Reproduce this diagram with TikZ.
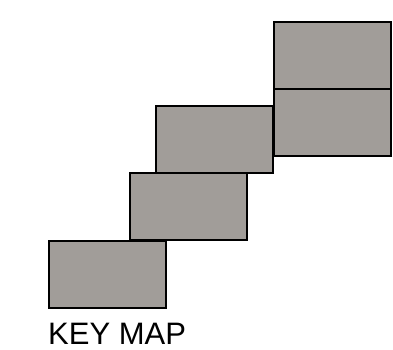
\documentclass[tikz,border=0pt]{standalone}
\usepackage{fontspec}
\setmainfont{Liberation Sans}
\usetikzlibrary{positioning}
\definecolor{keygray}{RGB}{161, 157, 153}

\begin{document}
\begin{tikzpicture}[x=1pt, y=-1pt,
    sheet/.style={draw=black, fill=keygray, line width=2pt, inner sep=0pt, minimum width=117pt, minimum height=67pt}]
    \useasboundingbox (0,0) rectangle (393,350);

    % Blätter
    \node[sheet] (s1) at (107, 274) {};
    \node[sheet] (s2) at (188, 206.5) {};
    \node[sheet] (s3) at (214.5, 139.5) {};
    \node[sheet] (s4) at (332, 122.5) {};
    \node[sheet] (s5) at (332, 55.5) {};

    % Beschriftung
    \node[anchor=base west, inner sep=0pt, font=\fontsize{31}{31}\selectfont] (title) at (48, 344) {KEY MAP};
\end{tikzpicture}
\end{document}
